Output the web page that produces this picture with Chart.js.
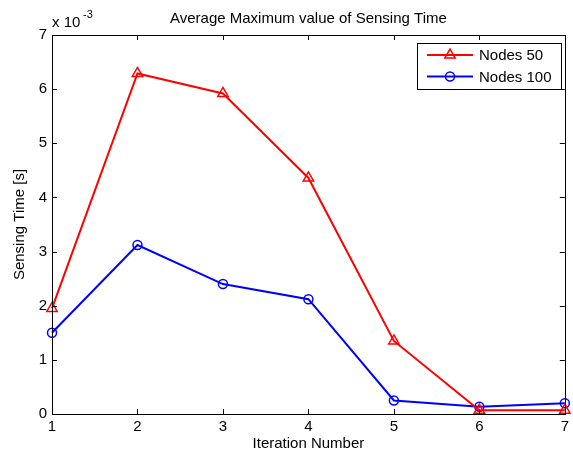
<!DOCTYPE html>
<html>
<head>
<meta charset="utf-8">
<title>Average Maximum value of Sensing Time</title>
<script src="https://cdn.jsdelivr.net/npm/chart.js@4.4.0/dist/chart.umd.min.js"></script>
<style>
  html, body { margin: 0; padding: 0; background: #fff; }
  canvas { display: block; }
</style>
</head>
<body>
<canvas id="chart" width="573" height="455"></canvas>
<script>
// iterations on the x axis, sensing time in seconds
const iterations = [1, 2, 3, 4, 5, 6, 7];
const nodes50 = [0.00195, 0.00629, 0.00592, 0.00436, 0.00135, 0.00007, 0.00007];
const nodes100 = [0.0015, 0.00312, 0.0024, 0.00212, 0.00025, 0.000135, 0.0002];
const yTicks = [0, 1, 2, 3, 4, 5, 6, 7];

const FONT = "'Liberation Sans', Arial, Helvetica, sans-serif";
Chart.defaults.font.family = FONT;
Chart.defaults.font.size = 15;
Chart.defaults.color = "#000";

// matlab style frame: full box, inward ticks, titles and legend box
const frame = {
  id: "frame",
  afterDraw(chart) {
    const ctx = chart.ctx;
    const a = chart.chartArea;
    const xs = chart.scales.x;
    const ys = chart.scales.y;
    const tl = 5;

    ctx.save();
    ctx.strokeStyle = "#000";
    ctx.lineWidth = 1;
    ctx.strokeRect(Math.round(a.left) + 0.5, Math.round(a.top) + 0.5,
      Math.round(a.right - a.left), Math.round(a.bottom - a.top));

    ctx.beginPath();
    xs.ticks.forEach((t, i) => {
      const px = Math.round(xs.getPixelForTick(i)) + 0.5;
      ctx.moveTo(px, a.bottom); ctx.lineTo(px, a.bottom - tl);
      ctx.moveTo(px, a.top); ctx.lineTo(px, a.top + tl);
    });
    ys.ticks.forEach((t) => {
      const py = Math.round(ys.getPixelForValue(t.value)) + 0.5;
      ctx.moveTo(a.left, py); ctx.lineTo(a.left + tl, py);
      ctx.moveTo(a.right, py); ctx.lineTo(a.right - tl, py);
    });
    ctx.stroke();

    // title and axis labels
    const cx = (a.left + a.right) / 2;
    ctx.fillStyle = "#000";
    ctx.font = "15px " + FONT;
    ctx.textAlign = "center";
    ctx.textBaseline = "middle";
    ctx.fillText("Average Maximum value of Sensing Time", cx, 19);
    ctx.fillText("Iteration Number", cx, 444);

    ctx.save();
    ctx.translate(20, (a.top + a.bottom) / 2);
    ctx.rotate(-Math.PI / 2);
    ctx.fillText("Sensing Time [s]", 0, 0);
    ctx.restore();

    // exponent of the y axis
    ctx.textAlign = "left";
    ctx.fillText("x 10", 52, 23);
    ctx.font = "11px " + FONT;
    ctx.fillText("-3", 83, 15);

    // legend
    const lx = 417, ly = 43, lw = 144, lh = 46;
    ctx.fillStyle = "#fff";
    ctx.fillRect(lx, ly, lw, lh);
    ctx.strokeRect(lx + 0.5, ly + 0.5, lw, lh);
    ctx.font = "15px " + FONT;
    chart.data.datasets.forEach((ds, i) => {
      const y = 55 + i * 21.5;
      ctx.strokeStyle = ds.borderColor;
      ctx.lineWidth = 2;
      ctx.beginPath();
      ctx.moveTo(427, y); ctx.lineTo(473, y);
      ctx.stroke();
      ctx.lineWidth = ds.pointBorderWidth;
      ctx.fillStyle = "rgba(0,0,0,0)";
      Chart.helpers.drawPoint(ctx, {
        pointStyle: ds.pointStyle, radius: ds.pointRadius, rotation: 0,
        borderWidth: ds.pointBorderWidth
      }, 450, y);
      ctx.fillStyle = "#000";
      ctx.textAlign = "left";
      ctx.fillText(ds.label, 479, y + 1);
    });
    ctx.restore();
  }
};

new Chart(document.getElementById("chart"), {
  type: "line",
  data: {
    labels: iterations,
    datasets: [
      {
        label: "Nodes 50",
        data: nodes50,
        borderColor: "#ff0000",
        backgroundColor: "rgba(0,0,0,0)",
        borderWidth: 2,
        pointStyle: "triangle",
        pointRadius: 6,
        pointBorderWidth: 1.5,
        pointBackgroundColor: "rgba(0,0,0,0)",
        pointBorderColor: "#ff0000",
        tension: 0,
        clip: false,
      },
      {
        label: "Nodes 100",
        data: nodes100,
        borderColor: "#0000ff",
        backgroundColor: "rgba(0,0,0,0)",
        borderWidth: 2,
        pointStyle: "circle",
        pointRadius: 4.5,
        pointBorderWidth: 1.5,
        pointBackgroundColor: "rgba(0,0,0,0)",
        pointBorderColor: "#0000ff",
        tension: 0,
        clip: false,
      },
    ],
  },
  options: {
    responsive: false,
    animation: false,
    layout: { padding: { top: 35, right: 6, left: 0, bottom: 0 } },
    plugins: {
      legend: { display: false },
      title: { display: false },
      tooltip: { enabled: false },
    },
    scales: {
      x: {
        type: "category",
        offset: false,
        grid: { display: false, drawTicks: false },
        border: { display: false },
        ticks: { padding: 4, maxRotation: 0 },
        afterFit: (s) => { s.height = 41; },
      },
      y: {
        min: 0,
        max: 0.007,
        grid: { display: false, drawTicks: false },
        border: { display: false },
        ticks: {
          padding: 5,
          stepSize: 0.001,
          callback: (v) => yTicks[Math.round(v * 1000)],
        },
        afterFit: (s) => { s.width = 52; },
      },
    },
  },
  plugins: [frame],
});
</script>
</body>
</html>
